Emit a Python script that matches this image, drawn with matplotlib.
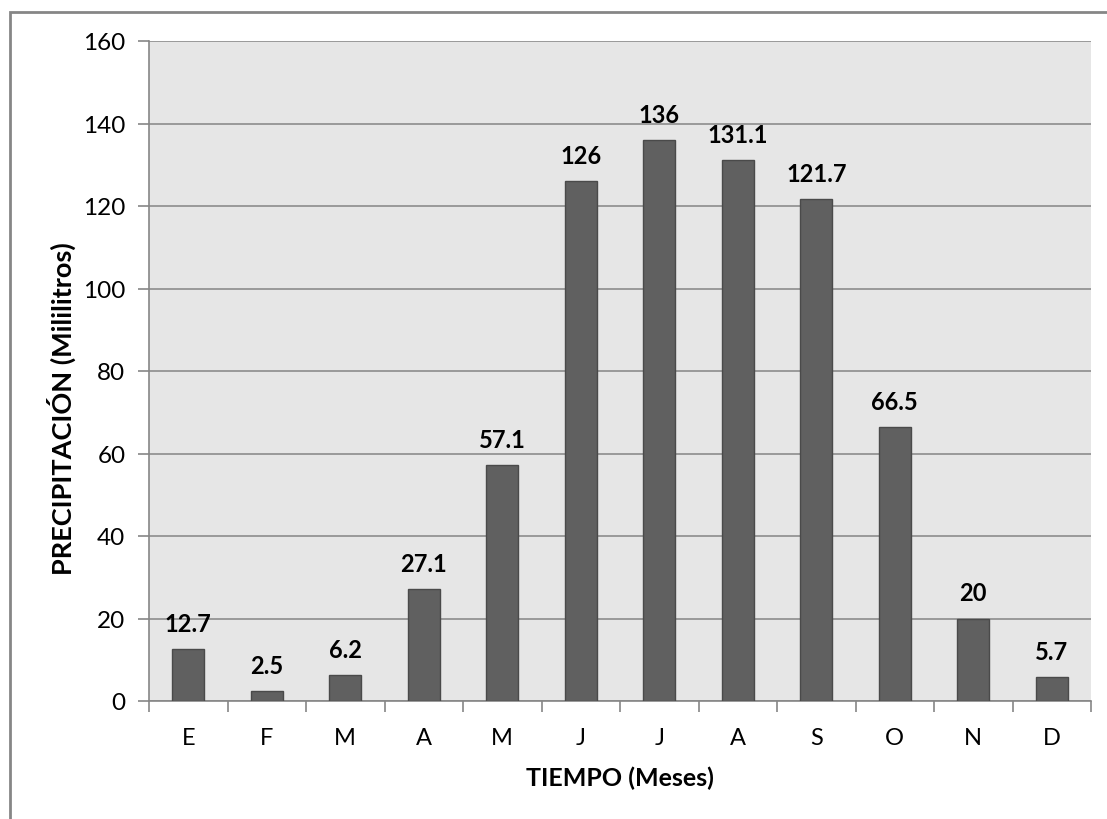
import matplotlib.pyplot as plt
from matplotlib.patches import Rectangle
import numpy as np

months = ['E', 'F', 'M', 'A', 'M', 'J', 'J', 'A', 'S', 'O', 'N', 'D']
precip = [12.7, 2.5, 6.2, 27.1, 57.1, 126, 136, 131.1, 121.7, 66.5, 20, 5.7]
labels = ['12.7', '2.5', '6.2', '27.1', '57.1', '126', '136', '131.1', '121.7', '66.5', '20', '5.7']
yticks = [0, 20, 40, 60, 80, 100, 120, 140, 160]

plt.rcParams['font.family'] = ['Lato', 'DejaVu Sans']

fig = plt.figure(figsize=(11.07, 8.2), dpi=100)
# outer chart border (runs off the right and bottom of the image)
fig.patches.append(Rectangle((10 / 1107, -0.1), 1.2, (820 - 13) / 820 + 0.1,
                             transform=fig.transFigure, fill=False,
                             edgecolor='#868686', linewidth=2))

ax = fig.add_axes([149 / 1107, 118 / 820, 942 / 1107, 660 / 820])
ax.set_facecolor('#e6e6e6')

x = np.arange(len(months))
ax.bar(x, precip, width=0.41, color='#606060', edgecolor='#4a4a4a', linewidth=1, zorder=3)
for xi, v, t in zip(x, precip, labels):
    ax.annotate(t, (xi, v), xytext=(0, 13), textcoords='offset points',
                ha='center', va='baseline', fontsize=17, fontweight='bold', zorder=4)

ax.set_xlim(-0.5, len(months) - 0.5)
ax.set_ylim(0, 160)
ax.set_yticks(yticks)
ax.set_yticklabels([str(v) for v in yticks], fontsize=17.5)
ax.yaxis.grid(True, color='#8c8c8c', linewidth=1.2, zorder=1)
ax.set_axisbelow(True)

ax.set_xticks(x)
ax.set_xticklabels(months, fontsize=17)
ax.set_xticks(np.arange(-0.5, len(months)), minor=True)
ax.tick_params(axis='x', which='major', length=0, pad=19)
ax.tick_params(axis='x', which='minor', length=8, color='#868686', width=1.2)
ax.tick_params(axis='y', length=8, color='#868686', width=1.2, pad=9)

for side in ['top', 'right']:
    ax.spines[side].set_visible(False)
for side in ['left', 'bottom']:
    ax.spines[side].set_color('#868686')
    ax.spines[side].set_linewidth(1.2)

ax.set_xlabel('TIEMPO (Meses)', fontsize=18, fontweight='bold', labelpad=12)
ax.set_ylabel('PRECIPITACIÓN (Mililitros)', fontsize=19.5, fontweight='bold')
ax.yaxis.set_label_coords(-0.077, 0.445)

fig.savefig('out.png', dpi=100)
